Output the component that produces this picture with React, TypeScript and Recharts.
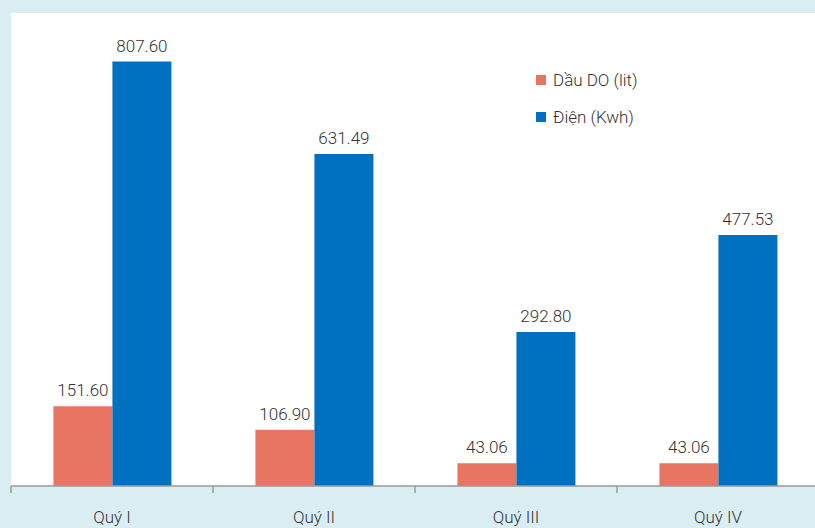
import { BarChart, Bar, XAxis, YAxis, CartesianGrid, LabelList, Legend } from "recharts"

const quarters = ["Quý I", "Quý II", "Quý III", "Quý IV"]
const dauDO = [151.6, 106.9, 43.06, 43.06]
const dien = [807.6, 631.49, 292.8, 477.53]

const seriesNames = ["Dầu DO (lit)", "Điện (Kwh)"]
const colors = ["#E87562", "#0070C0"]

const data = quarters.map((q, i) => ({ name: q, dau: dauDO[i], dien: dien[i] }))

const font = "Roboto, 'Liberation Sans', sans-serif"

function QuarterTick(props: any) {
  const { x, y, payload } = props
  const left = x - (payload.offset ?? 0)
  return (
    <g>
      <line x1={left} y1={y - 8} x2={left} y2={y - 1} stroke="#9a9a9a" strokeWidth={1.5} />
      <text x={x} y={y + 29} textAnchor="middle" fill="#333" fontSize={17} fontWeight={300} fontFamily={font}>
        {payload.value}
      </text>
    </g>
  )
}

function LegendBox() {
  return (
    <div style={{ fontFamily: font, fontSize: 17, fontWeight: 300, color: "#333" }}>
      {seriesNames.map((n, i) => (
        <div key={n} style={{ display: "flex", alignItems: "center", height: 37 }}>
          <span style={{ width: 10, height: 10, background: colors[i], marginRight: 7 }} />
          <span>{n}</span>
        </div>
      ))}
    </div>
  )
}

const fmt = (v: any) => Number(v).toFixed(2)

export default function App() {
  return (
    <div style={{ position: "fixed", left: 0, top: 0, width: 815, height: 528, overflow: "hidden", background: "#DAEDF3" }}>
      <BarChart
        width={819}
        height={528}
        data={data}
        margin={{ top: 13, right: 0, left: 11, bottom: 0 }}
        barCategoryGap="21%"
        barGap={0}
      >
        <CartesianGrid horizontal={false} vertical={false} fill="#ffffff" />
        <XAxis
          dataKey="name"
          height={42}
          axisLine={{ stroke: "#9a9a9a", strokeWidth: 1.5 }}
          tickLine={false}
          tick={<QuarterTick />}
          interval={0}
        />
        <YAxis hide width={0} domain={[0, 900]} />
        <Legend
          layout="horizontal"
          verticalAlign="middle"
          align="center"
          wrapperStyle={{ left: 536, top: 61, width: 200 }}
          content={<LegendBox />}
        />
        <Bar dataKey="dau" name={seriesNames[0]} fill={colors[0]} isAnimationActive={false}>
          <LabelList dataKey="dau" position="top" offset={10} formatter={fmt} fill="#333" fontSize={17} fontWeight={300} fontFamily={font} />
        </Bar>
        <Bar dataKey="dien" name={seriesNames[1]} fill={colors[1]} isAnimationActive={false}>
          <LabelList dataKey="dien" position="top" offset={10} formatter={fmt} fill="#333" fontSize={17} fontWeight={300} fontFamily={font} />
        </Bar>
      </BarChart>
    </div>
  )
}
